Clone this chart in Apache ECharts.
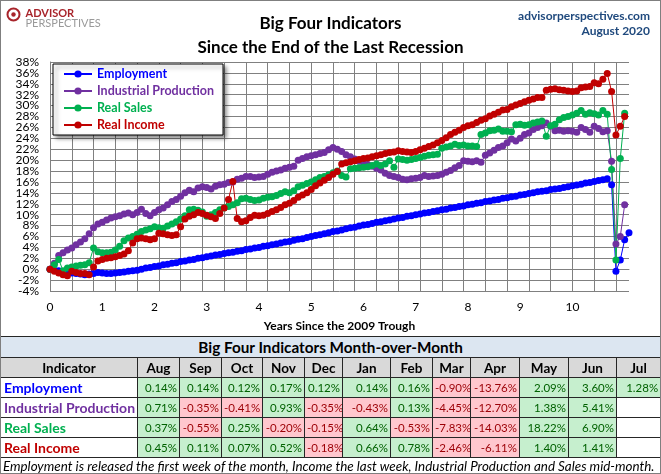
<!DOCTYPE html>
<html>
<head>
<meta charset="utf-8">
<title>Big Four Indicators</title>
<script src="https://cdn.jsdelivr.net/npm/echarts@6/dist/echarts.min.js"></script>
<style>
  html, body { margin: 0; padding: 0; background: #fff; }
  #page { position: relative; width: 661px; height: 474px; overflow: hidden; font-family: Lato, "Open Sans", sans-serif; }
  #chart { position: absolute; left: 0; top: 0; width: 661px; height: 337px; }
  #frame { position: absolute; left: 0; top: 0; width: 659px; height: 472px; border: 1px solid #7f7f7f; pointer-events: none; }
  #mom { position: absolute; left: 0; top: 336px; width: 661px; border-collapse: collapse; table-layout: fixed; }
  #mom td { border: 1px solid #262626; padding: 0 2px; height: 19px; white-space: nowrap; overflow: hidden; line-height: 18px; }
  #mom tr.ttl td { background: #DCE6F1; text-align: center; font-weight: bold; font-size: 15.3px; height: 20px; }
  #mom tr.hdr td { background: #D9D9D9; text-align: center; font-weight: bold; font-size: 13.5px; }
  #mom td.name { font-weight: bold; font-size: 14px; text-align: left; padding-left: 3px; }
  #mom td.v { text-align: right; font-size: 11.5px; }
  #mom td.pos { background: #C6EFCE; color: #006100; }
  #mom td.neg { background: #FFC7CE; color: #9C0006; }
  #note { position: absolute; left: 3px; top: 458px; font-style: italic; font-size: 13.4px; white-space: nowrap; }
</style>
</head>
<body>
<div id="page">
  <div id="chart"></div>
  <table id="mom"></table>
  <div id="note">Employment is released the first week of the month, Income the last week, Industrial Production and Sales mid-month.</div>
  <div id="frame"></div>
</div>
<script>
// cumulative % change since the June 2009 trough, one value per month
var employment = [
  0, -0.2, -0.3, -0.5, -0.6, -0.7, -0.8, -0.9, -1.0, -0.9, -0.8, -0.6,
  -0.7, -0.8, -0.8, -0.7, -0.6, -0.5, -0.4, -0.3, -0.2, 0.0, 0.2, 0.3,
  0.5, 0.6, 0.8, 0.9, 1.1, 1.2, 1.4, 1.5, 1.7, 1.8, 2.0, 2.1,
  2.3, 2.4, 2.6, 2.7, 2.9, 3.0, 3.1, 3.3, 3.4, 3.6, 3.7, 3.9,
  4.0, 4.2, 4.3, 4.5, 4.6, 4.8, 5.0, 5.1, 5.3, 5.5, 5.6, 5.8,
  6.0, 6.2, 6.3, 6.5, 6.7, 6.9, 7.0, 7.2, 7.4, 7.6, 7.7, 7.9,
  8.1, 8.2, 8.4, 8.6, 8.7, 8.9, 9.0, 9.2, 9.4, 9.5, 9.7, 9.8,
  10.0, 10.1, 10.3, 10.4, 10.6, 10.7, 10.9, 11.0, 11.2, 11.3, 11.5, 11.6,
  11.8, 11.9, 12.1, 12.2, 12.4, 12.5, 12.7, 12.8, 13.0, 13.1, 13.3, 13.4,
  13.6, 13.7, 13.9, 14.0, 14.2, 14.3, 14.4, 14.6, 14.7, 14.8, 15.0, 15.1,
  15.3, 15.45, 15.6, 15.8, 15.9, 16.1, 16.25, 16.4, 16.6, 15.5, -0.4, 1.7, 5.4, 6.7
];
var industrialProduction = [
  0, 1.1, 2.5, 3.0, 3.5, 3.9, 4.5, 5.0, 5.6, 6.5, 7.6, 8.3,
  8.6, 9.0, 9.4, 9.6, 9.8, 10.1, 10.3, 10.0, 10.4, 11.0, 10.2, 9.8,
  10.4, 10.9, 11.2, 11.8, 12.4, 12.8, 13.4, 14.0, 14.5, 14.2, 14.9, 15.1,
  15.0, 14.7, 15.2, 15.5, 15.6, 15.9, 16.0, 16.5, 16.7, 17.0, 17.0, 16.8,
  16.9, 17.0, 17.4, 17.8, 18.0, 18.2, 18.5, 18.7, 18.9, 20.0, 20.3, 20.6,
  20.8, 21.0, 21.2, 21.4, 21.9, 22.3, 22.0, 21.6, 21.0, 20.6, 20.2, 19.8,
  19.5, 19.2, 18.9, 18.5, 18.2, 17.6, 17.2, 17.0, 16.8, 16.5, 16.4, 16.6,
  16.7, 16.8, 17.2, 17.0, 17.1, 17.2, 17.4, 17.8, 18.1, 18.6, 19.0, 19.9,
  19.8, 19.7, 19.9, 19.6, 20.9, 21.3, 21.8, 22.3, 22.6, 23.2, 23.9, 23.5,
  24.0, 24.7, 25.0, 25.6, 26.0, 26.3, 26.8, 26.2, 25.4, 25.5, 25.3, 25.4,
  25.3, 25.1, 26.0, 25.6, 25.1, 26.2, 25.8, 25.2, 25.4, 19.8, 4.6, 6.0, 11.8
];
var realSales = [
  0, 0.8, 1.8, -0.3, 0.2, 0.4, 0.6, 0.7, 0.8, 1.2, 3.9, 3.2,
  3.0, 3.0, 3.1, 3.5, 4.2, 5.2, 5.7, 6.0, 6.4, 6.9, 7.2, 7.4,
  7.8, 7.6, 7.5, 7.9, 8.3, 8.7, 9.2, 9.8, 10.9, 11.0, 10.8, 10.5,
  9.7, 10.0, 10.4, 10.9, 11.2, 11.5, 11.8, 12.2, 12.9, 13.0, 12.8, 12.6,
  12.7, 13.0, 13.2, 13.3, 13.5, 13.9, 14.2, 14.0, 14.4, 15.1, 15.4, 15.7,
  16.0, 16.4, 16.8, 17.0, 17.3, 17.7, 18.0, 17.2, 16.9, 18.4, 18.5, 18.6,
  18.7, 18.8, 19.0, 19.3, 19.0, 19.3, 19.9, 18.7, 20.2, 20.1, 20.0, 20.1,
  20.3, 20.5, 20.7, 20.9, 21.0, 21.1, 22.2, 22.4, 22.6, 22.9, 22.7, 22.8,
  22.6, 22.6, 22.5, 24.7, 25.0, 25.4, 25.5, 25.7, 25.3, 25.3, 25.2, 26.5,
  26.6, 26.4, 26.5, 26.8, 27.0, 27.2, 24.4, 26.3, 26.6, 27.4, 27.8, 28.0,
  28.3, 28.6, 29.1, 28.4, 28.7, 28.5, 28.3, 29.1, 28.4, 18.3, 1.7, 20.3, 28.6
];
var realIncome = [
  0, -0.4, -0.7, -1.0, -1.2, -0.4, -0.6, -0.8, -0.8, -1.0, 0.4, 1.5,
  1.8, 2.0, 2.1, 2.3, 2.5, 2.8, 3.4, 4.8, 5.6, 5.7, 5.6, 5.4,
  5.6, 6.6, 6.5, 6.3, 6.2, 6.3, 7.8, 9.2, 9.7, 10.0, 10.4, 10.2,
  9.9, 9.6, 9.3, 10.2, 11.2, 12.8, 16.1, 9.3, 8.7, 8.9, 9.5, 9.9,
  9.8, 9.9, 10.2, 10.6, 10.9, 11.3, 11.8, 12.1, 12.6, 13.2, 13.6, 14.0,
  14.6, 15.3, 15.8, 16.3, 16.8, 17.4, 17.9, 19.3, 19.5, 19.7, 19.9, 20.1,
  20.3, 20.4, 20.6, 20.8, 21.0, 21.2, 21.4, 21.5, 21.7, 21.6, 21.5, 21.4,
  21.6, 21.9, 22.2, 22.5, 22.8, 23.2, 23.6, 24.1, 24.7, 25.1, 25.5, 26.0,
  26.3, 26.5, 26.9, 27.3, 27.6, 28.1, 28.4, 28.8, 29.2, 29.3, 29.8, 30.1,
  30.4, 30.7, 31.0, 31.2, 31.5, 31.5, 32.8, 33.0, 33.1, 32.9, 32.8, 32.7,
  32.6, 32.7, 33.3, 33.4, 33.5, 34.2, 34.0, 34.85, 35.9, 32.6, 24.6, 26.2, 28.0
];

// month-over-month table (Aug 2019 .. Jul 2020)
var tableMonths = ["Aug", "Sep", "Oct", "Nov", "Dec", "Jan", "Feb", "Mar", "Apr", "May", "Jun", "Jul"];
var momEmployment = [0.14, 0.14, 0.12, 0.17, 0.12, 0.14, 0.16, -0.90, -13.76, 2.09, 3.60, 1.28];
var momIndustrial = [0.71, -0.35, -0.41, 0.93, -0.35, -0.43, 0.13, -4.45, -12.70, 1.38, 5.41, null];
var momSales = [0.37, -0.55, 0.25, -0.20, -0.15, 0.64, -0.53, -7.83, -14.03, 18.22, 6.90, null];
var momIncome = [0.45, 0.11, 0.07, 0.52, -0.18, 0.66, 0.78, -2.46, -6.11, 1.40, 1.41, null];

var seriesNames = ["Employment", "Industrial Production", "Real Sales", "Real Income"];
var seriesColors = ["#0000FF", "#7030A0", "#00B050", "#C00000"];
var FONT = "Lato, 'Open Sans', sans-serif";

// months since trough, used as x categories
var monthsSinceTrough = [];
for (var m = 0; m < employment.length; m++) monthsSinceTrough.push(m);

var allSeries = [employment, industrialProduction, realSales, realIncome];

// the % labels sit closer than their text height, so they are split over two
// identical y axes (every other label each) to stop ECharts hiding any of them
function pctLabels(keepRemainder) {
  return {
    formatter: function (v) { return Math.abs(v % 4) === keepRemainder ? v + "%" : ""; },
    color: "#000", fontSize: 12, margin: 11,
    showMinLabel: true, showMaxLabel: true, fontFamily: FONT
  };
}

var chart = echarts.init(document.getElementById("chart"), null, { renderer: "canvas" });
chart.setOption({
  animation: false,
  textStyle: { fontFamily: FONT },
  title: {
    text: "Big Four Indicators\nSince the End of the Last Recession",
    left: "center",
    top: 7,
    textStyle: { fontSize: 17, fontWeight: "bold", lineHeight: 24, color: "#000", fontFamily: FONT }
  },
  graphic: [
    { type: "text", right: 11, top: 10, style: { text: "advisorperspectives.com", fill: "#1F497D", font: "bold 12px " + FONT } },
    { type: "text", right: 11, top: 25, style: { text: "August 2020", fill: "#1F497D", font: "bold 12px " + FONT } },
    {
      type: "group", left: 5, top: 6,
      children: [
        { type: "circle", shape: { cx: 7, cy: 8, r: 6 }, style: { fill: "none", stroke: "#A8242B", lineWidth: 2 } },
        { type: "circle", shape: { cx: 7, cy: 8, r: 2.2 }, style: { fill: "#A8242B" } },
        { type: "text", x: 19, y: 1, style: { text: "ADVISOR", fill: "#A8242B", font: "bold 11px " + FONT } },
        { type: "text", x: 19, y: 11, style: { text: "PERSPECTIVES", fill: "#9a9a9a", font: "11px " + FONT } }
      ]
    }
  ],
  legend: {
    orient: "vertical",
    left: 53,
    top: 64,
    padding: [3, 9, 3, 10],
    itemWidth: 28,
    itemHeight: 9,
    itemGap: 3,
    backgroundColor: "#fff",
    borderColor: "#000",
    borderWidth: 1,
    shadowColor: "rgba(0,0,0,0.45)",
    shadowBlur: 4,
    shadowOffsetX: 3,
    shadowOffsetY: 3,
    selectedMode: false,
    textStyle: { fontSize: 12.5, fontWeight: "bold", lineHeight: 14, fontFamily: FONT },
    data: seriesNames.map(function (n, i) {
      return { name: n, textStyle: { color: seriesColors[i] } };
    })
  },
  grid: { left: 50, right: 32, top: 62, bottom: 43, containLabel: false },
  xAxis: {
    type: "category",
    data: monthsSinceTrough,
    boundaryGap: false,
    name: "Years Since the 2009 Trough",
    nameLocation: "middle",
    nameGap: 29,
    nameTextStyle: { fontSize: 12, fontWeight: "bold", color: "#000", fontFamily: FONT },
    axisLine: { show: true, lineStyle: { color: "#808080" } },
    axisTick: { show: true, length: 4, interval: function (i) { return i % 5 === 0; }, lineStyle: { color: "#808080" } },
    axisLabel: {
      interval: function (i) { return i % 12 === 0 && i <= 120; },
      formatter: function (v) { return String(v / 12); },
      color: "#000",
      fontSize: 12,
      margin: 10,
      fontFamily: FONT
    },
    splitLine: { show: true, interval: function (i) { return i % 5 === 0; }, lineStyle: { color: "#808080", width: 1 } }
  },
  yAxis: [
    {
      type: "value", min: -4, max: 38, interval: 2, position: "left",
      axisLine: { show: true, lineStyle: { color: "#808080" } },
      axisTick: { show: false },
      axisLabel: pctLabels(0),
      splitLine: { show: true, lineStyle: { color: "#808080", width: 1 } }
    },
    {
      type: "value", min: -4, max: 38, interval: 2, position: "left", offset: 0,
      axisLine: { show: false },
      axisTick: { show: false },
      axisLabel: pctLabels(2),
      splitLine: { show: false }
    }
  ],
  series: allSeries.map(function (d, i) {
    return {
      name: seriesNames[i],
      type: "line",
      data: d,
      symbol: "circle",
      symbolSize: 7,
      showAllSymbol: true,
      color: seriesColors[i],
      lineStyle: { width: 1, color: seriesColors[i] },
      itemStyle: { color: seriesColors[i] },
      emphasis: { disabled: true }
    };
  })
});

// month-over-month table
var momRows = [momEmployment, momIndustrial, momSales, momIncome];
var colWidths = [137, 42, 42, 41, 42, 38, 48, 42, 38, 49, 49, 48, 44];
var html = "<colgroup>";
colWidths.forEach(function (w) { html += '<col style="width:' + w + 'px">'; });
html += "</colgroup>";
html += '<tr class="ttl"><td colspan="13">Big Four Indicators Month-over-Month</td></tr>';
html += '<tr class="hdr"><td>Indicator</td>';
tableMonths.forEach(function (mo) { html += "<td>" + mo + "</td>"; });
html += "</tr>";
momRows.forEach(function (row, r) {
  html += '<tr><td class="name" style="color:' + seriesColors[r] + '">' + seriesNames[r] + "</td>";
  row.forEach(function (v) {
    if (v === null) { html += '<td class="v"></td>'; return; }
    html += '<td class="v ' + (v < 0 ? "neg" : "pos") + '">' + v.toFixed(2) + "%</td>";
  });
  html += "</tr>";
});
document.getElementById("mom").innerHTML = html;
</script>
</body>
</html>
